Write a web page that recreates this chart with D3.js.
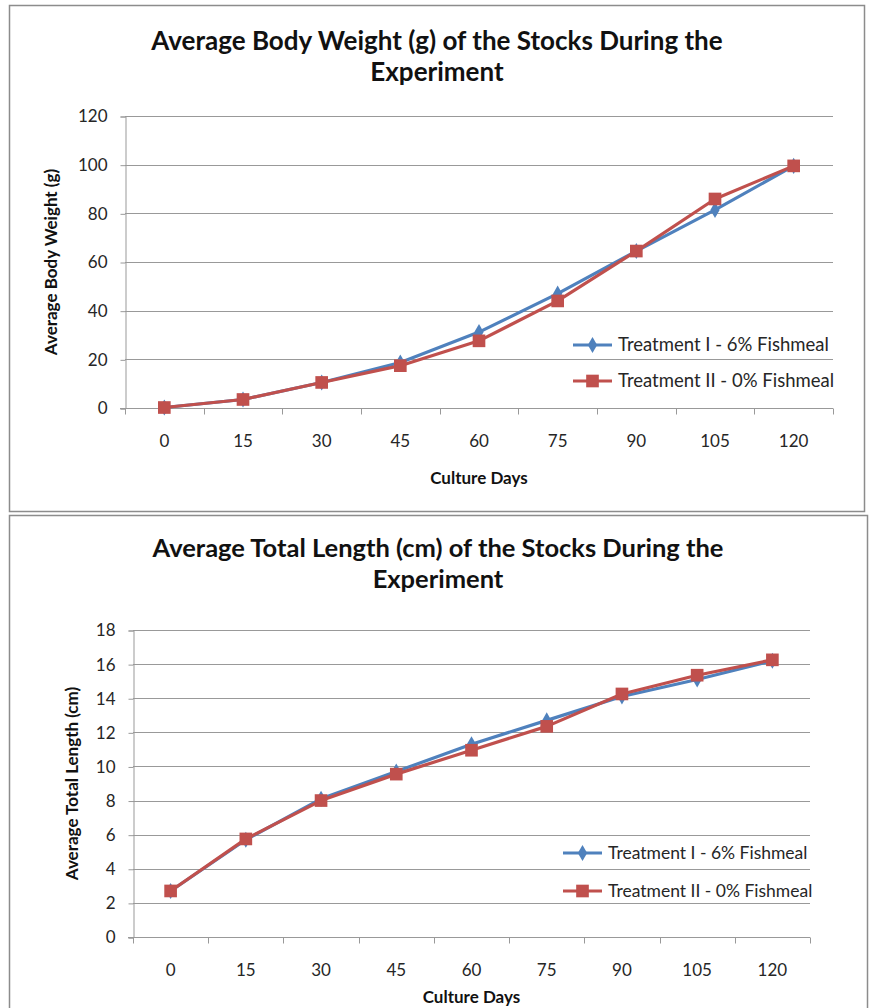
<!DOCTYPE html>
<html>
<head>
<meta charset="utf-8">
<script src="https://cdn.jsdelivr.net/npm/d3@7"></script>
<style>
body { margin: 0; background: #fff; }
svg { display: block; font-family: Lato, "Open Sans", sans-serif; }
</style>
</head>
<body>
<svg id="chart" width="871" height="1008"></svg>
<script>
// data
var days = ['0','15','30','45','60','75','90','105','120'];
var seriesNames = ['Treatment I - 6% Fishmeal', 'Treatment II - 0% Fishmeal'];

var weightT1 = [0.2, 3.5, 10.5, 18.7, 31.2, 47, 64.5, 81.4, 99.5];
var weightT2 = [0.2, 3.5, 10.5, 17.4, 27.6, 44, 64.5, 85.9, 99.5];
var weightTicks = [0, 20, 40, 60, 80, 100, 120];

var lengthT1 = [2.7, 5.7, 8.1, 9.7, 11.3, 12.7, 14.1, 15.1, 16.2];
var lengthT2 = [2.7, 5.75, 8.0, 9.55, 10.95, 12.35, 14.25, 15.35, 16.25];
var lengthTicks = [0, 2, 4, 6, 8, 10, 12, 14, 16, 18];

var blue = '#4f81bd', red = '#c0504d';

var svg = d3.select('#chart');

function drawChart(cfg){
	var g = svg.append('g');

	// outer frame
	g.append('rect')
		.attr('x', cfg.frame[0]).attr('y', cfg.frame[1])
		.attr('width', cfg.frame[2]).attr('height', cfg.frame[3])
		.attr('fill', '#fff').attr('stroke', '#8c8c8c').attr('stroke-width', 1.5);

	var x = d3.scaleBand().domain(days).range([cfg.left, cfg.right]);
	var y = d3.scaleLinear().domain([0, d3.max(cfg.ticks)]).range([cfg.bottom, cfg.top]);

	// gridlines
	g.selectAll('.grid').data(cfg.ticks.slice(1)).enter()
		.append('line')
		.attr('x1', cfg.left).attr('x2', cfg.right)
		.attr('y1', d => Math.round(y(d)) + 0.5).attr('y2', d => Math.round(y(d)) + 0.5)
		.attr('stroke', '#999').attr('stroke-width', 1);

	// y axis
	var yAxis = g.append('g')
		.attr('transform', 'translate(' + (cfg.left + 0.5) + ',0.5)')
		.call(d3.axisLeft(y).tickValues(cfg.ticks).tickSize(5).tickPadding(13));
	yAxis.selectAll('path, line').attr('stroke', '#999');
	yAxis.selectAll('text').attr('font-size', 17).attr('fill', '#262626').attr('font-family', 'Lato, sans-serif');

	// x axis, ticks on band edges like Excel
	var xAxis = g.append('g')
		.attr('transform', 'translate(0,' + (Math.round(cfg.bottom) + 0.5) + ')');
	xAxis.append('line')
		.attr('x1', cfg.left - 5).attr('x2', cfg.right)
		.attr('stroke', '#999');
	var edges = days.map(d => x(d)).concat([cfg.right]);
	xAxis.selectAll('.tk').data(edges).enter()
		.append('line')
		.attr('x1', d => Math.round(d) + 0.5).attr('x2', d => Math.round(d) + 0.5)
		.attr('y1', 0).attr('y2', 6)
		.attr('stroke', '#999');
	xAxis.selectAll('.lb').data(days).enter()
		.append('text')
		.attr('x', d => x(d) + x.bandwidth() / 2)
		.attr('y', 38)
		.attr('text-anchor', 'middle')
		.attr('font-size', 17).attr('fill', '#262626')
		.text(d => d);

	// series
	var line = d3.line().x((d, i) => x(days[i]) + x.bandwidth() / 2).y(d => y(d));
	var series = [{vals: cfg.s1, col: blue, sym: d3.symbolDiamond, size: 75},
	              {vals: cfg.s2, col: red, sym: d3.symbolSquare, size: 160}];
	series.forEach(function(s){
		g.append('path')
			.attr('d', line(s.vals))
			.attr('fill', 'none').attr('stroke', s.col)
			.attr('stroke-width', 3.2).attr('stroke-linejoin', 'round');
	});
	series.forEach(function(s){
		g.selectAll(null).data(s.vals).enter()
			.append('path')
			.attr('d', d3.symbol().type(s.sym).size(s.size))
			.attr('transform', (d, i) => 'translate(' + (x(days[i]) + x.bandwidth() / 2) + ',' + y(d) + ')')
			.attr('fill', s.col);
	});

	// legend
	series.forEach(function(s, i){
		var ly = cfg.legend[1] + i * cfg.legendGap;
		var lg = g.append('g').attr('transform', 'translate(' + cfg.legend[0] + ',' + ly + ')');
		lg.append('line').attr('x1', 0).attr('x2', 39).attr('stroke', s.col).attr('stroke-width', 3.2);
		lg.append('path').attr('d', d3.symbol().type(s.sym).size(s.size))
			.attr('transform', 'translate(19.5,0)').attr('fill', s.col);
		lg.append('text').attr('x', 45).attr('dy', '0.35em')
			.attr('font-size', cfg.legendSize).attr('fill', '#262626')
			.text(seriesNames[i]);
	});

	// titles
	cfg.title.forEach(function(t, i){
		g.append('text')
			.attr('x', cfg.titleX).attr('y', cfg.titleY + i * 31)
			.attr('text-anchor', 'middle')
			.attr('font-size', cfg.titleSize).attr('font-weight', 'bold').attr('fill', '#111')
			.text(t);
	});
	g.append('text')
		.attr('x', (cfg.left + cfg.right) / 2).attr('y', cfg.xLabelY)
		.attr('text-anchor', 'middle')
		.attr('font-size', 17).attr('font-weight', 'bold').attr('fill', '#111')
		.text('Culture Days');
	g.append('text')
		.attr('transform', 'translate(' + cfg.yLabelX + ',' + ((cfg.top + cfg.bottom) / 2) + ') rotate(-90)')
		.attr('text-anchor', 'middle')
		.attr('font-size', 17).attr('font-weight', 'bold').attr('fill', '#111')
		.text(cfg.yLabel);
}

drawChart({
	frame: [9.5, 5.5, 855, 506],
	left: 125, right: 833, top: 116, bottom: 408,
	ticks: weightTicks, s1: weightT1, s2: weightT2,
	legend: [573, 345], legendGap: 36, legendSize: 18.5,
	title: ['Average Body Weight (g) of the Stocks During the', 'Experiment'],
	titleX: 437, titleY: 50, titleSize: 26,
	xLabelY: 484, yLabelX: 57,
	yLabel: 'Average Body Weight (g)'
});

drawChart({
	frame: [9.5, 515.5, 858, 500],
	left: 133, right: 810, top: 630, bottom: 937,
	ticks: lengthTicks, s1: lengthT1, s2: lengthT2,
	legend: [563, 853], legendGap: 38, legendSize: 17.5,
	title: ['Average Total Length (cm) of the Stocks During the', 'Experiment'],
	titleX: 438, titleY: 557, titleSize: 25.5,
	xLabelY: 1003, yLabelX: 78,
	yLabel: 'Average Total Length (cm)'
});
</script>
</body>
</html>
